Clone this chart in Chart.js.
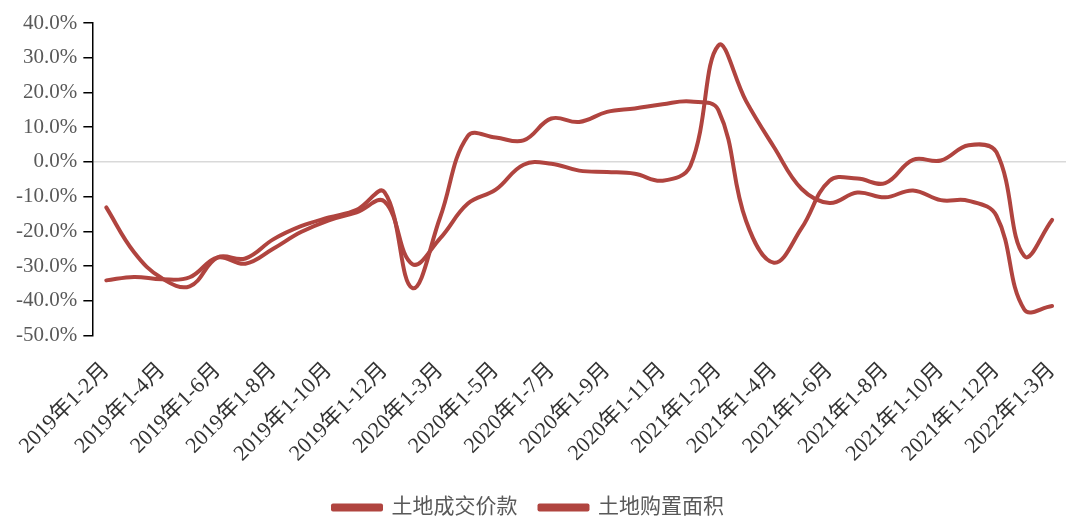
<!DOCTYPE html>
<html>
<head>
<meta charset="utf-8">
<script src="https://cdn.jsdelivr.net/npm/chart.js@4.4.1/dist/chart.umd.min.js"></script>
<style>
  html, body { margin: 0; padding: 0; background: #fff; }
  #wrap { width: 1080px; height: 528px; }
</style>
</head>
<body>
<div id="wrap"><canvas id="landChart" width="1080" height="528"></canvas></div>
<script>
// 月份（累计）
const months = [
  '2019年1-2月', '2019年1-3月', '2019年1-4月', '2019年1-5月', '2019年1-6月', '2019年1-7月',
  '2019年1-8月', '2019年1-9月', '2019年1-10月', '2019年1-11月', '2019年1-12月',
  '2020年1-2月', '2020年1-3月', '2020年1-4月', '2020年1-5月', '2020年1-6月', '2020年1-7月',
  '2020年1-8月', '2020年1-9月', '2020年1-10月', '2020年1-11月', '2020年1-12月',
  '2021年1-2月', '2021年1-3月', '2021年1-4月', '2021年1-5月', '2021年1-6月', '2021年1-7月',
  '2021年1-8月', '2021年1-9月', '2021年1-10月', '2021年1-11月', '2021年1-12月',
  '2022年1-2月', '2022年1-3月'
];

// 同比增速 (%)
const landValue = [
  -13.1, -26.0, -33.5, -35.8, -27.5, -27.8, -22.3, -18.5, -16.0, -13.8, -8.7,
  -36.3, -16.0, 7.5, 7.0, 6.2, 12.5, 11.5, 14.4, 15.4, 16.6, 17.4,
  15.0, -17.0, -29.0, -19.0, -5.4, -4.8, -6.1, 0.6, 0.4, 4.8, 2.8,
  -27.1, -16.7
];
const landArea = [
  -34.1, -33.1, -33.8, -33.2, -27.5, -29.3, -25.0, -20.2, -16.8, -14.5, -11.4,
  -29.4, -22.0, -12.0, -8.0, -0.8, -0.5, -2.5, -2.9, -3.4, -5.4, -1.1,
  33.5, 17.5, 4.3, -7.8, -11.8, -8.8, -10.2, -8.2, -11.0, -11.2, -15.5,
  -42.5, -41.5
];

const yTicks = [40, 30, 20, 10, 0, -10, -20, -30, -40, -50];

const lineColor = '#B0443F';
const textColor = '#595959';
const fontFamily = '"Liberation Serif", "Noto Sans CJK SC", serif';

// 图例整体稍微左移
const nudgeLegend = {
  id: 'nudgeLegend',
  afterLayout(chart) {
    const lg = chart.legend;
    if (!lg) return;
    lg.left -= 9; lg.right -= 9;
  }
};

const ctx = document.getElementById('landChart').getContext('2d');

new Chart(ctx, {
  type: 'line',
  data: {
    labels: months,
    datasets: [
      {
        label: '土地成交价款',
        data: landValue,
        borderColor: lineColor,
        backgroundColor: lineColor,
        borderWidth: 4,
        tension: 0.4,
        pointRadius: 0,
        borderCapStyle: 'round',
        borderJoinStyle: 'round'
      },
      {
        label: '土地购置面积',
        data: landArea,
        borderColor: lineColor,
        backgroundColor: lineColor,
        borderWidth: 4,
        tension: 0.4,
        pointRadius: 0,
        borderCapStyle: 'round',
        borderJoinStyle: 'round'
      }
    ]
  },
  plugins: [nudgeLegend],
  options: {
    responsive: false,
    animation: false,
    layout: { padding: { left: 9, right: 14, top: 23, bottom: 0 } },
    plugins: {
      tooltip: { enabled: false },
      legend: {
        position: 'bottom',
        labels: {
          color: textColor,
          font: { family: fontFamily, size: 21 },
          boxWidth: 48,
          boxHeight: 4,
          padding: 22
        }
      }
    },
    scales: {
      x: {
        offset: true,
        grid: { display: false, drawTicks: false },
        border: { display: false },
        ticks: {
          autoSkip: false,
          minRotation: 45,
          maxRotation: 45,
          padding: 22,
          color: '#333',
          font: { family: fontFamily, size: 22 },
          callback: (v, i) => (i % 2 === 0 ? months[i] : '')
        },
        // 标签下方留白收紧，右侧不为斜标签预留空间
        afterFit: scale => {
          scale.height -= 14;
          scale.paddingRight = 0;
        }
      },
      y: {
        min: -50,
        max: 40,
        afterBuildTicks: axis => { axis.ticks = yTicks.map(v => ({ value: v })); },
        grid: {
          color: c => (c.tick && c.tick.value === 0 ? '#d9d9d9' : 'rgba(0,0,0,0)'),
          lineWidth: 1.5,
          tickColor: '#000',
          tickLength: 9,
          drawTicks: true
        },
        border: { display: true, color: '#000', width: 1.5 },
        ticks: {
          padding: 6,
          color: textColor,
          font: { family: fontFamily, size: 21 },
          callback: v => v.toFixed(1) + '%'
        }
      }
    }
  }
});
</script>
</body>
</html>
